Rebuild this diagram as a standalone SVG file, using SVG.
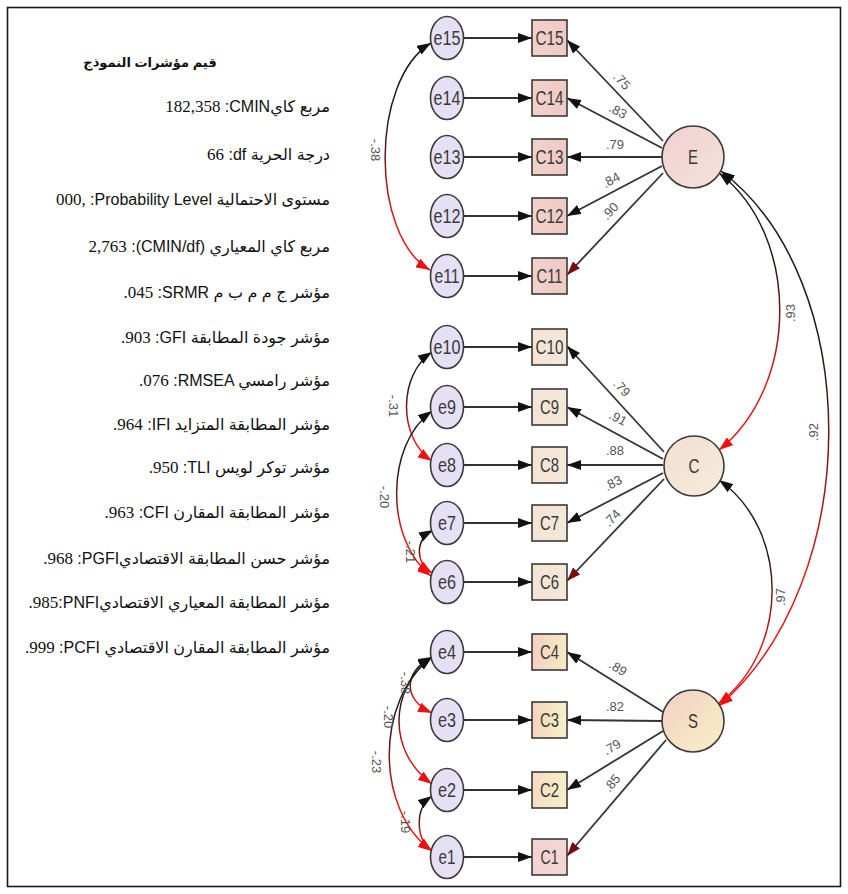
<svg xmlns="http://www.w3.org/2000/svg" width="848" height="894" viewBox="0 0 848 894">
<defs>
<style>
.frame{fill:#fff;stroke:#1a1a1a;stroke-width:1.6}
.err{fill:#e6e0f5;stroke:#3a3a3a;stroke-width:1.6}
.obs{stroke:#3a3a3a;stroke-width:1.6}
.lat{stroke:#3a3a3a;stroke-width:1.6}
.nl{font-family:"Liberation Sans Narrow","Liberation Sans",sans-serif;font-size:20px;fill:#3a3a3a;text-anchor:middle;dominant-baseline:central}
.reg{stroke:#333;stroke-width:1.8;fill:none;marker-end:url(#ah)}
.regr{stroke:#333;stroke-width:1.8;fill:none;marker-end:url(#ahr)}
.cov{fill:none;stroke:url(#covg);stroke-width:1.5;marker-start:url(#cs);marker-end:url(#ce)}
.lab{font-family:"Liberation Sans Narrow","Liberation Sans",sans-serif;font-size:13px;fill:#555;text-anchor:middle;dominant-baseline:central}
.ar{font-family:"Liberation Sans","DejaVu Sans",sans-serif;font-size:16px;fill:#111;text-anchor:end}
.ara{font-size:16px}
.num{font-family:"Liberation Serif",serif;font-size:17px}
.ttl{font-family:"Liberation Sans","DejaVu Sans",sans-serif;font-size:13px;font-weight:bold;fill:#111;text-anchor:middle}
</style>
<marker id="ah" viewBox="0 0 14 10" refX="14" refY="5" markerWidth="14" markerHeight="10" markerUnits="userSpaceOnUse" orient="auto"><path d="M0,0L14,5L0,10z" fill="#111"/></marker>
<marker id="ahr" viewBox="0 0 14 10" refX="14" refY="5" markerWidth="14" markerHeight="10" markerUnits="userSpaceOnUse" orient="auto"><path d="M0,0L14,5L0,10z" fill="#7a0c0c"/></marker>
<marker id="cs" viewBox="0 0 14 10" refX="14" refY="5" markerWidth="14" markerHeight="10" markerUnits="userSpaceOnUse" orient="auto-start-reverse"><path d="M0,0L14,5L0,10z" fill="#111"/></marker>
<marker id="ce" viewBox="0 0 14 10" refX="14" refY="5" markerWidth="14" markerHeight="10" markerUnits="userSpaceOnUse" orient="auto"><path d="M0,0L14,5L0,10z" fill="#f01010"/></marker>
<linearGradient id="covg" x1="0" y1="0" x2="0" y2="1">
<stop offset="0" stop-color="#1a1a1a"/><stop offset="0.35" stop-color="#2a1a1a"/><stop offset="0.75" stop-color="#e01818"/><stop offset="1" stop-color="#f01010"/>
</linearGradient>
<linearGradient id="gE" x1="0" y1="0" x2="1" y2="1"><stop offset="0" stop-color="#f0d0d0"/><stop offset="1" stop-color="#f6e2dc"/></linearGradient>
<linearGradient id="gC" x1="0" y1="0" x2="1" y2="1"><stop offset="0" stop-color="#f2dfd0"/><stop offset="1" stop-color="#f7ecdc"/></linearGradient>
<linearGradient id="gS" x1="0" y1="0" x2="1" y2="1"><stop offset="0" stop-color="#f4cfc6"/><stop offset="1" stop-color="#f7f1c4"/></linearGradient>
<linearGradient id="bE" x1="0" y1="0" x2="1" y2="0"><stop offset="0" stop-color="#f2d2cc"/><stop offset="1" stop-color="#f0c9c2"/></linearGradient>
<linearGradient id="bC" x1="0" y1="0" x2="1" y2="0"><stop offset="0" stop-color="#f5e4d6"/><stop offset="1" stop-color="#f3e8d8"/></linearGradient>
<linearGradient id="b4" x1="0" y1="0" x2="1" y2="0"><stop offset="0" stop-color="#f5cfc2"/><stop offset="1" stop-color="#f6ecc2"/></linearGradient>
<linearGradient id="b3" x1="0" y1="0" x2="1" y2="0"><stop offset="0" stop-color="#f6d2bd"/><stop offset="1" stop-color="#f8f3c8"/></linearGradient>
<linearGradient id="b2" x1="0" y1="0" x2="1" y2="0"><stop offset="0" stop-color="#f6dcc4"/><stop offset="1" stop-color="#f7efc8"/></linearGradient>
<linearGradient id="b1" x1="0" y1="0" x2="1" y2="0"><stop offset="0" stop-color="#f3d2d4"/><stop offset="1" stop-color="#f3d6d0"/></linearGradient>
</defs>

<!-- page frame -->
<rect class="frame" x="7.5" y="7.5" width="833" height="879"/>

<!-- fit indices panel -->
<g id="fit-indices">
<text class="ttl" x="150" y="67">قيم مؤشرات النموذج</text>
<text class="ar" x="330" y="112"><tspan class="num">182,358</tspan> :CMIN<tspan class="ara">مربع كاي</tspan></text>
<text class="ar" x="330" y="160"><tspan class="num">66</tspan> :df <tspan class="ara">درجة الحرية</tspan></text>
<text class="ar" x="330" y="205"><tspan class="num">000,</tspan> :Probability Level <tspan class="ara">مستوى الاحتمالية</tspan></text>
<text class="ar" x="330" y="252"><tspan class="num">2,763</tspan> :(CMIN/df) <tspan class="ara">مربع كاي المعياري</tspan></text>
<text class="ar" x="330" y="298"><tspan class="num">.045</tspan> :SRMR <tspan class="ara">مؤشر ج م م ب م</tspan></text>
<text class="ar" x="330" y="343"><tspan class="num">.903</tspan> :GFI <tspan class="ara">مؤشر جودة المطابقة</tspan></text>
<text class="ar" x="330" y="386"><tspan class="num">.076</tspan> :RMSEA <tspan class="ara">مؤشر رامسي</tspan></text>
<text class="ar" x="330" y="430"><tspan class="num">.964</tspan> :IFI <tspan class="ara">مؤشر المطابقة المتزايد</tspan></text>
<text class="ar" x="330" y="473"><tspan class="num">.950</tspan> :TLI <tspan class="ara">مؤشر توكر لويس</tspan></text>
<text class="ar" x="330" y="518"><tspan class="num">.963</tspan> :CFI <tspan class="ara">مؤشر المطابقة المقارن</tspan></text>
<text class="ar" x="330" y="564"><tspan class="num">.968</tspan> :PGFI<tspan class="ara">مؤشر حسن المطابقة الاقتصادي</tspan></text>
<text class="ar" x="330" y="608"><tspan class="num">.985</tspan>:PNFI<tspan class="ara">مؤشر المطابقة المعياري الاقتصادي</tspan></text>
<text class="ar" x="330" y="653"><tspan class="num">.999</tspan> :PCFI <tspan class="ara">مؤشر المطابقة المقارن الاقتصادي</tspan></text>
</g>

<!-- connectors -->
<g id="connectors">
<!-- error -> indicator -->
<line class="reg" x1="464" y1="38" x2="532" y2="38"/>
<line class="reg" x1="464" y1="98" x2="532" y2="98"/>
<line class="reg" x1="464" y1="157" x2="532" y2="157"/>
<line class="reg" x1="464" y1="216" x2="532" y2="216"/>
<line class="reg" x1="464" y1="276" x2="532" y2="276"/>
<line class="reg" x1="464" y1="347" x2="532" y2="347"/>
<line class="reg" x1="464" y1="407" x2="532" y2="407"/>
<line class="reg" x1="464" y1="465" x2="532" y2="465"/>
<line class="reg" x1="464" y1="523" x2="532" y2="523"/>
<line class="reg" x1="464" y1="582" x2="532" y2="582"/>
<line class="reg" x1="464" y1="652" x2="532" y2="652"/>
<line class="reg" x1="464" y1="720" x2="532" y2="720"/>
<line class="reg" x1="464" y1="790" x2="532" y2="790"/>
<line class="reg" x1="464" y1="857" x2="532" y2="857"/>
<!-- E loadings -->
<line class="reg" x1="663" y1="141" x2="567" y2="40"/>
<line class="reg" x1="662" y1="148" x2="567" y2="98"/>
<line class="reg" x1="662" y1="157" x2="567" y2="157"/>
<line class="reg" x1="662" y1="166" x2="567" y2="216"/>
<line class="regr" x1="663" y1="173" x2="567" y2="275"/>
<!-- C loadings -->
<line class="reg" x1="664" y1="452" x2="567" y2="346"/>
<line class="reg" x1="663" y1="459" x2="567" y2="407"/>
<line class="reg" x1="663" y1="465" x2="567" y2="465"/>
<line class="reg" x1="663" y1="473" x2="567" y2="523"/>
<line class="regr" x1="664" y1="479" x2="567" y2="581"/>
<!-- S loadings -->
<line class="reg" x1="663" y1="712" x2="567" y2="652"/>
<line class="reg" x1="662" y1="721" x2="567" y2="720"/>
<line class="reg" x1="663" y1="731" x2="567" y2="790"/>
<line class="regr" x1="666" y1="740" x2="567" y2="856"/>
<!-- factor covariances -->
<path class="cov" d="M719,173 C800,235 800,385 719,450"/>
<path class="cov" d="M721,171 C865,280 865,580 719,706"/>
<path class="cov" d="M719,480 C790,530 790,650 718,704"/>
<!-- error covariances -->
<path class="cov" d="M431,43 C370,80 370,235 430,270"/>
<path class="cov" d="M432,352 C398,375 398,438 432,461"/>
<path class="cov" d="M432,411 C385,445 385,540 431,576"/>
<path class="cov" d="M433,530 C415,540 415,562 432,573"/>
<path class="cov" d="M432,657 C403,672 403,700 432,713"/>
<path class="cov" d="M432,657 C388,690 388,752 432,784"/>
<path class="cov" d="M432,657 C375,700 375,810 432,851"/>
<path class="cov" d="M432,796 C415,808 415,838 432,851"/>
<!-- coefficient labels -->
<text class="lab" transform="translate(622,81) rotate(47)">.75</text>
<text class="lab" transform="translate(618,111) rotate(28)">.83</text>
<text class="lab" transform="translate(615,144)">.79</text>
<text class="lab" transform="translate(611,180) rotate(-28)">.84</text>
<text class="lab" transform="translate(610,211) rotate(-47)">.90</text>
<text class="lab" transform="translate(622,388) rotate(48)">.79</text>
<text class="lab" transform="translate(618,418) rotate(28)">.91</text>
<text class="lab" transform="translate(615,450)">.88</text>
<text class="lab" transform="translate(613,483) rotate(-28)">.83</text>
<text class="lab" transform="translate(612,518) rotate(-46)">.74</text>
<text class="lab" transform="translate(618,668) rotate(32)">.89</text>
<text class="lab" transform="translate(615,706)">.82</text>
<text class="lab" transform="translate(612,747) rotate(-31)">.79</text>
<text class="lab" transform="translate(612,783) rotate(-50)">.85</text>
<text class="lab" transform="translate(790,313) rotate(-90)">.93</text>
<text class="lab" transform="translate(813,432) rotate(-90)">.92</text>
<text class="lab" transform="translate(780,597) rotate(-90)">.97</text>
<text class="lab" transform="translate(375,150) rotate(90)">-.38</text>
<text class="lab" transform="translate(393,406) rotate(90)">-.31</text>
<text class="lab" transform="translate(384,497) rotate(90)">-.20</text>
<text class="lab" transform="translate(410,552) rotate(90)">-.21</text>
<text class="lab" transform="translate(405,683) rotate(90)">-.38</text>
<text class="lab" transform="translate(388,717) rotate(90)">-.20</text>
<text class="lab" transform="translate(376,762) rotate(90)">-.23</text>
<text class="lab" transform="translate(405,822) rotate(90)">-.19</text>
</g>

<!-- error terms -->
<g id="e15"><ellipse class="err" cx="447" cy="38" rx="16.5" ry="21.5"/><text class="nl" x="447" y="38" textLength="27" lengthAdjust="spacingAndGlyphs">e15</text></g>
<g id="e14"><ellipse class="err" cx="447" cy="98" rx="16.5" ry="21.5"/><text class="nl" x="447" y="98" textLength="27" lengthAdjust="spacingAndGlyphs">e14</text></g>
<g id="e13"><ellipse class="err" cx="447" cy="157" rx="16.5" ry="21.5"/><text class="nl" x="447" y="157" textLength="27" lengthAdjust="spacingAndGlyphs">e13</text></g>
<g id="e12"><ellipse class="err" cx="447" cy="216" rx="16.5" ry="21.5"/><text class="nl" x="447" y="216" textLength="27" lengthAdjust="spacingAndGlyphs">e12</text></g>
<g id="e11"><ellipse class="err" cx="447" cy="276" rx="16.5" ry="21.5"/><text class="nl" x="447" y="276" textLength="25" lengthAdjust="spacingAndGlyphs">e11</text></g>
<g id="e10"><ellipse class="err" cx="447" cy="347" rx="16.5" ry="21.5"/><text class="nl" x="447" y="347" textLength="27" lengthAdjust="spacingAndGlyphs">e10</text></g>
<g id="e9"><ellipse class="err" cx="447" cy="407" rx="16.5" ry="21.5"/><text class="nl" x="447" y="407" textLength="18" lengthAdjust="spacingAndGlyphs">e9</text></g>
<g id="e8"><ellipse class="err" cx="447" cy="465" rx="16.5" ry="21.5"/><text class="nl" x="447" y="465" textLength="18" lengthAdjust="spacingAndGlyphs">e8</text></g>
<g id="e7"><ellipse class="err" cx="447" cy="523" rx="16.5" ry="21.5"/><text class="nl" x="447" y="523" textLength="18" lengthAdjust="spacingAndGlyphs">e7</text></g>
<g id="e6"><ellipse class="err" cx="447" cy="582" rx="16.5" ry="21.5"/><text class="nl" x="447" y="582" textLength="18" lengthAdjust="spacingAndGlyphs">e6</text></g>
<g id="e4"><ellipse class="err" cx="447" cy="652" rx="16.5" ry="21.5"/><text class="nl" x="447" y="652" textLength="18" lengthAdjust="spacingAndGlyphs">e4</text></g>
<g id="e3"><ellipse class="err" cx="447" cy="720" rx="16.5" ry="21.5"/><text class="nl" x="447" y="720" textLength="18" lengthAdjust="spacingAndGlyphs">e3</text></g>
<g id="e2"><ellipse class="err" cx="447" cy="790" rx="16.5" ry="21.5"/><text class="nl" x="447" y="790" textLength="18" lengthAdjust="spacingAndGlyphs">e2</text></g>
<g id="e1"><ellipse class="err" cx="447" cy="857" rx="16.5" ry="21.5"/><text class="nl" x="447" y="857" textLength="17" lengthAdjust="spacingAndGlyphs">e1</text></g>

<!-- observed indicators -->
<g id="C15"><rect class="obs" fill="url(#bE)" x="532" y="20" width="35" height="36"/><text class="nl" x="549.5" y="38" textLength="28" lengthAdjust="spacingAndGlyphs">C15</text></g>
<g id="C14"><rect class="obs" fill="url(#bE)" x="532" y="80" width="35" height="36"/><text class="nl" x="549.5" y="98" textLength="28" lengthAdjust="spacingAndGlyphs">C14</text></g>
<g id="C13"><rect class="obs" fill="url(#bE)" x="532" y="139" width="35" height="36"/><text class="nl" x="549.5" y="157" textLength="28" lengthAdjust="spacingAndGlyphs">C13</text></g>
<g id="C12"><rect class="obs" fill="url(#bE)" x="532" y="198" width="35" height="36"/><text class="nl" x="549.5" y="216" textLength="28" lengthAdjust="spacingAndGlyphs">C12</text></g>
<g id="C11"><rect class="obs" fill="url(#bE)" x="532" y="258" width="35" height="36"/><text class="nl" x="549.5" y="276" textLength="26" lengthAdjust="spacingAndGlyphs">C11</text></g>
<g id="C10"><rect class="obs" fill="url(#bC)" x="532" y="329" width="35" height="36"/><text class="nl" x="549.5" y="347" textLength="28" lengthAdjust="spacingAndGlyphs">C10</text></g>
<g id="C9"><rect class="obs" fill="url(#bC)" x="532" y="389" width="35" height="36"/><text class="nl" x="549.5" y="407" textLength="19" lengthAdjust="spacingAndGlyphs">C9</text></g>
<g id="C8"><rect class="obs" fill="url(#bC)" x="532" y="447" width="35" height="36"/><text class="nl" x="549.5" y="465" textLength="19" lengthAdjust="spacingAndGlyphs">C8</text></g>
<g id="C7"><rect class="obs" fill="url(#bC)" x="532" y="505" width="35" height="36"/><text class="nl" x="549.5" y="523" textLength="19" lengthAdjust="spacingAndGlyphs">C7</text></g>
<g id="C6"><rect class="obs" fill="url(#bC)" x="532" y="564" width="35" height="36"/><text class="nl" x="549.5" y="582" textLength="19" lengthAdjust="spacingAndGlyphs">C6</text></g>
<g id="C4"><rect class="obs" fill="url(#b4)" x="532" y="634" width="35" height="36"/><text class="nl" x="549.5" y="652" textLength="19" lengthAdjust="spacingAndGlyphs">C4</text></g>
<g id="C3"><rect class="obs" fill="url(#b3)" x="532" y="702" width="35" height="36"/><text class="nl" x="549.5" y="720" textLength="19" lengthAdjust="spacingAndGlyphs">C3</text></g>
<g id="C2"><rect class="obs" fill="url(#b2)" x="532" y="772" width="35" height="36"/><text class="nl" x="549.5" y="790" textLength="19" lengthAdjust="spacingAndGlyphs">C2</text></g>
<g id="C1"><rect class="obs" fill="url(#b1)" x="532" y="839" width="35" height="36"/><text class="nl" x="549.5" y="857" textLength="18" lengthAdjust="spacingAndGlyphs">C1</text></g>

<!-- latent factors -->
<g id="E"><circle class="lat" fill="url(#gE)" cx="693" cy="157" r="31"/><text class="nl" x="693" y="157" textLength="10" lengthAdjust="spacingAndGlyphs">E</text></g>
<g id="C"><circle class="lat" fill="url(#gC)" cx="694" cy="466" r="30"/><text class="nl" x="694" y="466" textLength="11" lengthAdjust="spacingAndGlyphs">C</text></g>
<g id="S"><circle class="lat" fill="url(#gS)" cx="693" cy="721" r="31"/><text class="nl" x="693" y="721" textLength="10" lengthAdjust="spacingAndGlyphs">S</text></g>
</svg>
